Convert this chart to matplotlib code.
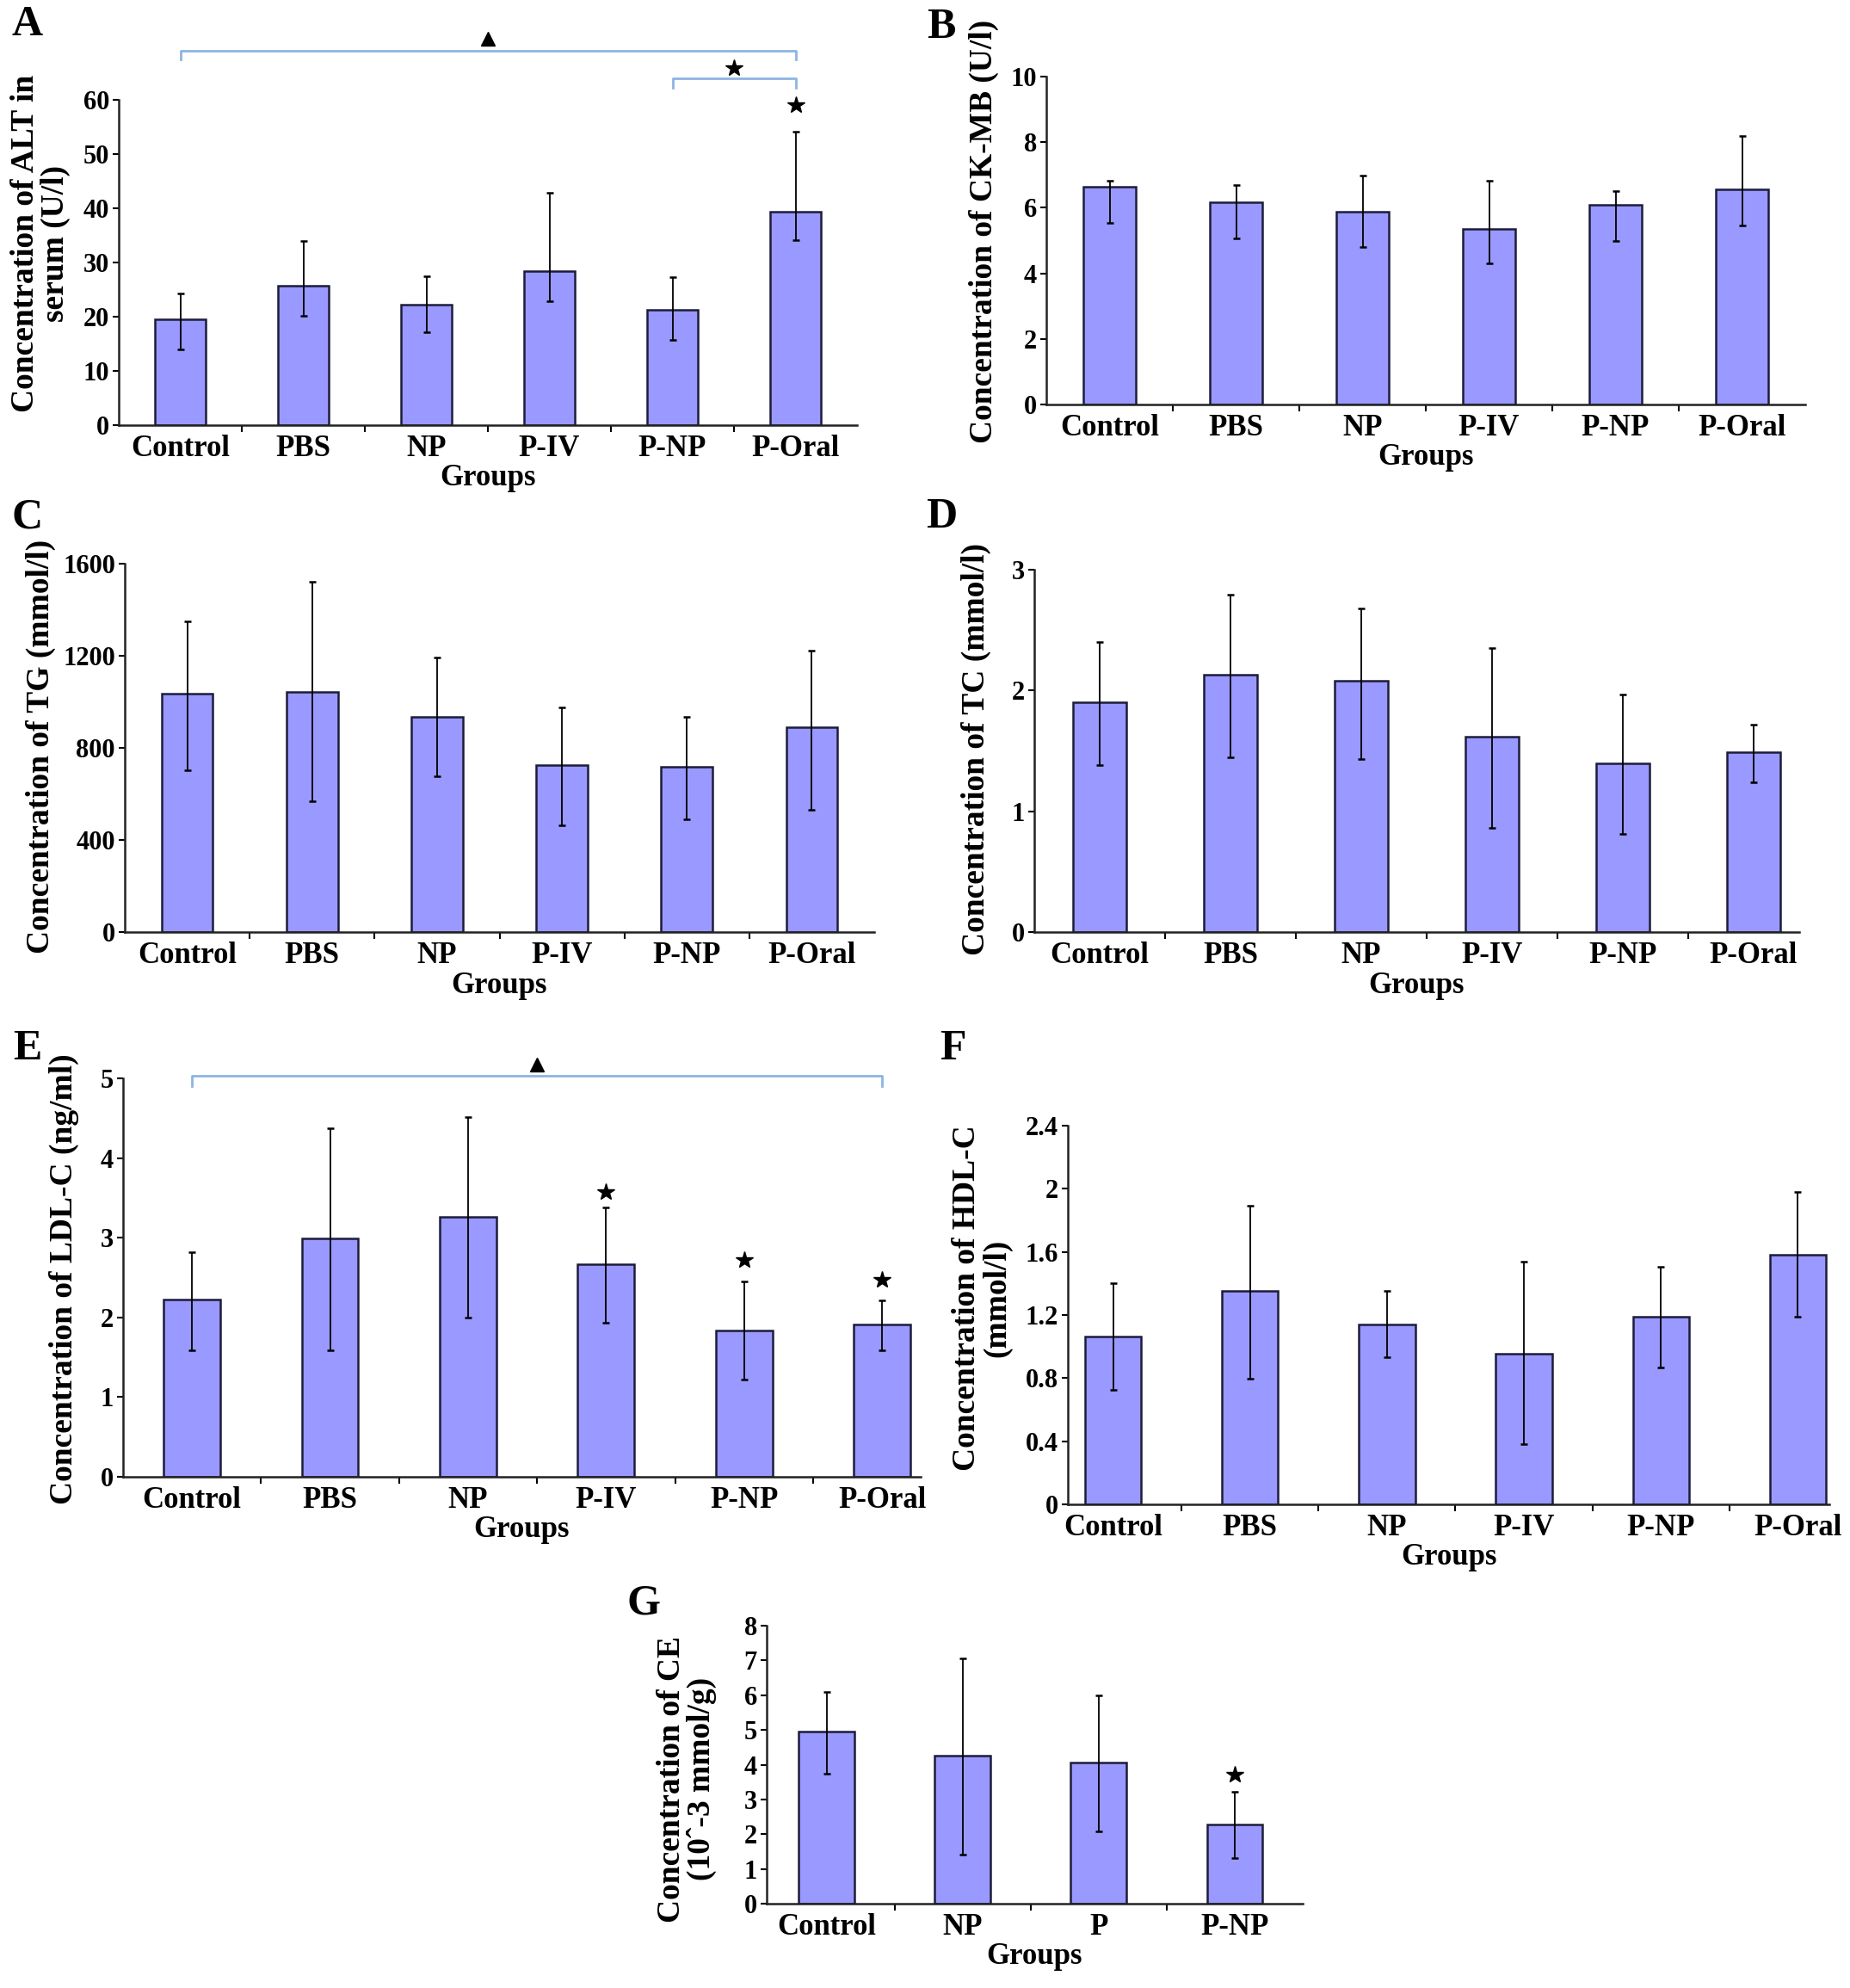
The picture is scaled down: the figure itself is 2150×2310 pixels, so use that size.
import matplotlib
matplotlib.use('Agg')
import matplotlib.pyplot as plt
import numpy as np

plt.rcParams['font.family'] = ['Liberation Serif', 'DejaVu Serif']
plt.rcParams['font.weight'] = 'bold'

groups6 = ['Control', 'PBS', 'NP', 'P-IV', 'P-NP', 'P-Oral']
groups4 = ['Control', 'NP', 'P', 'P-NP']

# A - ALT
alt_mean = [19.5, 25.7, 22.2, 28.4, 21.2, 39.3]
alt_low = [13.9, 20.1, 17.1, 22.9, 15.7, 34.2]
alt_high = [24.3, 33.9, 27.4, 42.8, 27.3, 54.1]

# B - CK-MB
ck_mean = [6.63, 6.16, 5.88, 5.35, 6.09, 6.56]
ck_low = [5.53, 5.06, 4.80, 4.31, 5.00, 5.46]
ck_high = [6.83, 6.70, 6.97, 6.83, 6.50, 8.18]

# C - TG
tg_mean = [1035, 1044, 934, 727, 716, 888]
tg_low = [704, 568, 676, 464, 489, 529]
tg_high = [1351, 1522, 1192, 975, 936, 1222]

# D - TC
tc_mean = [1.90, 2.13, 2.08, 1.62, 1.40, 1.49]
tc_low = [1.38, 1.45, 1.43, 0.86, 0.81, 1.24]
tc_high = [2.40, 2.79, 2.68, 2.35, 1.97, 1.72]

# E - LDL-C
ldl_mean = [2.23, 2.99, 3.26, 2.67, 1.84, 1.91]
ldl_low = [1.59, 1.59, 2.00, 1.93, 1.22, 1.59]
ldl_high = [2.82, 4.37, 4.51, 3.38, 2.45, 2.21]

# F - HDL-C
hdl_mean = [1.066, 1.354, 1.141, 0.957, 1.191, 1.584]
hdl_low = [0.726, 0.794, 0.935, 0.381, 0.869, 1.191]
hdl_high = [1.402, 1.894, 1.354, 1.538, 1.504, 1.980]

# G - CE
ce_mean = [4.95, 4.27, 4.06, 2.29]
ce_low = [3.73, 1.40, 2.08, 1.32]
ce_high = [6.09, 7.06, 6.00, 3.23]

# significance marks (group index, height)
alt_stars = [(5, 59.1)]
ldl_stars = [(3, 3.57), (4, 2.72), (5, 2.47)]
ce_stars = [(3, 3.72)]

BAR_COLOR = '#9999ff'
BRACKET_COLOR = '#8db4e2'
W, H = 2150, 2310

fig = plt.figure(figsize=(21.5, 23.1), dpi=100)


# axes from pixel box
def add_ax(left, right, top, bottom):
    return fig.add_axes([left / W, 1 - bottom / H, (right - left) / W, (bottom - top) / H])


# one bar panel
def panel(box, labels, mean, low, high, yticks, ytick_labels, xlim):
    ax = add_ax(*box)
    x = np.arange(len(labels)) + 0.5
    mean = np.array(mean)
    yerr = [mean - np.array(low), np.array(high) - mean]
    ax.bar(x, mean, width=0.41, color=BAR_COLOR, edgecolor='#1c1c3a', linewidth=1.8, zorder=2)
    ax.errorbar(x, mean, yerr=yerr, fmt='none', ecolor='black', elinewidth=1.3,
                capsize=3, capthick=1.8, zorder=3)
    ax.set_xlim(*xlim)
    ax.set_ylim(yticks[0], yticks[-1])
    ax.set_yticks(yticks)
    ax.set_yticklabels(ytick_labels, fontsize=22, fontweight='bold')
    ax.set_xticks(x)
    ax.set_xticklabels(labels, fontsize=25, fontweight='bold')
    ax.set_xticks(np.arange(1, len(labels)), minor=True)
    ax.tick_params(axis='x', which='major', length=0, pad=8)
    ax.tick_params(axis='x', which='minor', length=6, width=1.5, direction='out')
    ax.tick_params(axis='y', length=5, width=1.5, direction='out', pad=3)
    for s in ['top', 'right']:
        ax.spines[s].set_visible(False)
    for s in ['left', 'bottom']:
        ax.spines[s].set_linewidth(1.8)
        ax.spines[s].set_color('#222222')
    ax.set_xlabel('Groups', fontsize=25, fontweight='bold', labelpad=1)
    return ax


# bracket with a marker above
def bracket(ax, x0, x1, y, drop, mark_y, marker, size):
    ax.plot([x0, x0, x1, x1], [y - drop, y, y, y - drop], color=BRACKET_COLOR,
            lw=2, clip_on=False, zorder=4)
    ax.plot([(x0 + x1) / 2], [mark_y], marker=marker, color='black', markersize=size,
            clip_on=False, linestyle='none')


def stars(ax, marks):
    for i, y in marks:
        ax.plot([i + 0.5], [y], marker='*', color='black', markersize=15,
                clip_on=False, linestyle='none')


def fmt(vals):
    return ['{:g}'.format(v) for v in vals]


# A
ax = panel((138, 996, 116, 494), groups6, alt_mean, alt_low, alt_high,
           [0, 10, 20, 30, 40, 50, 60], fmt([0, 10, 20, 30, 40, 50, 60]), (0, 6))
bracket(ax, 0.5, 5.5, 69.1, 1.7, 71.2, '^', 11)
bracket(ax, 4.5, 5.5, 63.9, 1.7, 65.9, '*', 15)
stars(ax, alt_stars)

# B
ax = panel((1216, 2098, 89, 470), groups6, ck_mean, ck_low, ck_high,
           [0, 2, 4, 6, 8, 10], fmt([0, 2, 4, 6, 8, 10]), (0, 6))

# C
ax = panel((145, 1016, 655, 1083), groups6, tg_mean, tg_low, tg_high,
           [0, 400, 800, 1200, 1600], fmt([0, 400, 800, 1200, 1600]), (0, 6))

# D
ax = panel((1202, 2091, 662, 1083), groups6, tc_mean, tc_low, tc_high,
           [0, 1, 2, 3], fmt([0, 1, 2, 3]), (0, 5.85))

# E
ax = panel((143, 1070, 1253, 1716), groups6, ldl_mean, ldl_low, ldl_high,
           [0, 1, 2, 3, 4, 5], fmt([0, 1, 2, 3, 4, 5]), (0, 5.78))
bracket(ax, 0.5, 5.5, 5.03, 0.13, 5.17, '^', 11)
stars(ax, ldl_stars)

# F
ax = panel((1241, 2126, 1308, 1748), groups6, hdl_mean, hdl_low, hdl_high,
           [0, 0.4, 0.8, 1.2, 1.6, 2.0, 2.4], fmt([0, 0.4, 0.8, 1.2, 1.6, 2.0, 2.4]), (0.17, 5.73))

# G
ax = panel((891, 1514, 1889, 2212), groups4, ce_mean, ce_low, ce_high,
           [0, 1, 2, 3, 4, 5, 6, 7, 8], fmt(range(9)), (0.06, 4.0))
stars(ax, ce_stars)

# y labels
ylabels = [
    (47, 283, 'Concentration of ALT in\nserum (U/l)'),
    (1143, 269, 'Concentration of CK-MB (U/l)'),
    (47, 867, 'Concentration of TG (mmol/l)'),
    (1134, 871, 'Concentration of TC (mmol/l)'),
    (74, 1486, 'Concentration of LDL-C (ng/ml)'),
    (1141, 1508, 'Concentration of HDL-C\n(mmol/l)'),
    (798, 2067, 'Concentration of CE\n(10\u02c6-3 mmol/g)'),
]
for px, py, txt in ylabels:
    fig.text(px / W, 1 - py / H, txt, rotation=90, ha='center', va='center',
             fontsize=27, fontweight='bold', linespacing=1.0)

# panel letters
letters = [('A', 32, 29), ('B', 1094, 32), ('C', 32, 601), ('D', 1094, 601),
           ('E', 32, 1219), ('F', 1107, 1219), ('G', 748, 1863)]
for t, px, py in letters:
    fig.text(px / W, 1 - py / H, t, ha='center', va='center', fontsize=36, fontweight='bold')

fig.savefig('out.png', dpi=100, facecolor='white')
